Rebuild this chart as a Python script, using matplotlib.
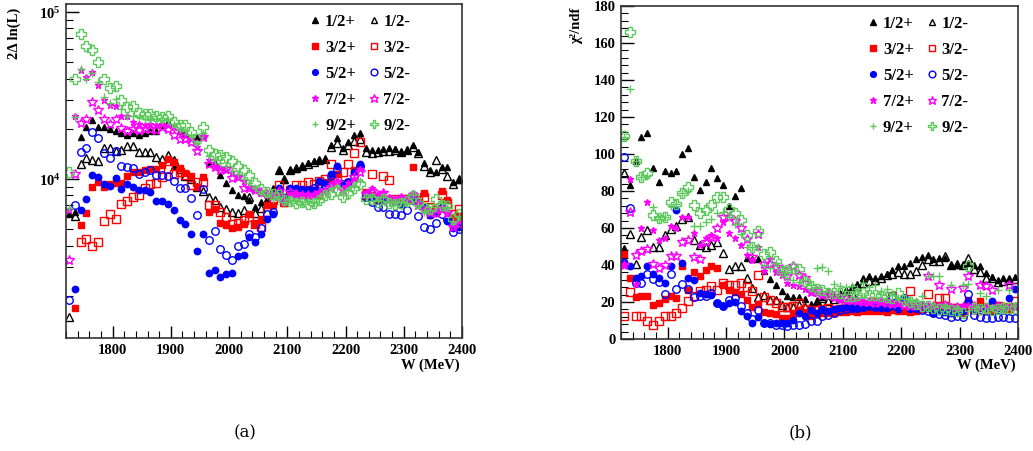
import numpy as np
import matplotlib
matplotlib.use("Agg")
import matplotlib.pyplot as plt
from matplotlib.lines import Line2D
from matplotlib.ticker import LogLocator, MultipleLocator, FuncFormatter, NullFormatter

plt.rcParams['font.family'] = ['Liberation Serif', 'DejaVu Serif']
plt.rcParams['font.weight'] = 'bold'
plt.rcParams['mathtext.fontset'] = 'custom'
plt.rcParams['mathtext.rm'] = 'Liberation Serif:bold'
plt.rcParams['mathtext.it'] = 'Liberation Serif:bold'
plt.rcParams['mathtext.bf'] = 'Liberation Serif:bold'

nan = np.nan
W = np.arange(1725, 2400, 10)  # MeV, 68 bins

labels = ['1/2+', '1/2-', '3/2+', '3/2-', '5/2+', '5/2-', '7/2+', '7/2-', '9/2+', '9/2-']

# ---- (a) 2 Delta ln(L), in thousands ----
L_12p = [6.2, 6.4, 18, 20.5, 22.5, 20.5, 20.5, 20, 19.5, 19,
         18.5, 19, 18.5, 19, 19.5, 19.5, 21, 22, 12, 19.5,
         19, 10.2, 18, 18.5, 12.5, 12.5, 10.6, 9.5, 8.6, 8.1,
         7.9, 7.5, 6.8, 7.3, 7.6, 8.8, 11.3, 9.9, 11.3, 11.5,
         12.0, 12.5, 12.8, 13.0, 13.2, 16.0, 17.6, 15.3, 16.7, 18.4,
         19.0, 15.3, 15.0, 15.0, 15.2, 15.3, 15.2, 14.5, 15.0, 16.0,
         14.5, 12.5, 11.3, 11.0, 11.9, 11.9, 9.6, 9.9]
L_12m = [1.5, 6.0, 12.3, 13.4, 13.0, 12.8, 15.3, 15.3, 14.8, 15.0,
         15.8, 15.8, 14.6, 14.6, 14.5, 13.5, 13.2, 14.0, 13.0, 11.5,
         10.5, 10.0, 9.0, 8.5, 7.8, 7.5, 6.8, 6.6, 6.4, 6.3,
         6.5, 7.8, 6.3, 6.7, 7.5, 8.5, 11.3, 10.0, 11.3, 11.6,
         12.0, 12.3, 12.6, 13.0, 13.3, 15.5, 16.5, 15.0, 16.0, 17.0,
         17.5, 14.5, 14.3, 14.5, 14.8, 14.8, 15.0, 14.6, 15.0, 15.5,
         14.3, 12.0, 11.0, 13.1, 11.5, 10.5, 9.3, 10.0]
L_32p = [nan, 1.7, 5.3, 6.3, 9.0, 9.6, 9.0, 9.3, 9.5, 9.5,
         10.5, 11.1, 11.1, 11.3, 11.5, 11.5, 12.1, 13.3, 12.7, 11.6,
         10.9, 10.4, 9.0, 10.3, 6.4, 6.6, 5.5, 5.3, 5.1, 5.2,
         5.4, 6.2, 5.4, 5.8, 7.0, 7.0, 8.6, 7.2, 8.3, 8.5,
         8.2, 8.4, 8.6, 8.0, 9.6, 9.8, 10.8, 9.2, 9.6, 11.4,
         11.8, 8.4, 8.0, 7.5, 7.6, 7.6, 7.4, 7.6, 7.7, 11.9,
         7.3, 8.3, 6.1, 6.5, 8.5, 7.5, 5.9, 6.0]
L_32m = [nan, nan, 4.2, 4.4, 4.0, 4.2, 5.6, 6.2, 5.8, 7.1,
         7.4, 7.8, 8.0, 8.8, 9.3, 9.5, 10.3, 11.5, 10.8, 11.0,
         10.6, 9.2, 9.6, 9.6, 7.0, 7.0, 6.4, 5.9, 5.4, 5.5,
         5.7, 5.9, 5.4, 5.2, 6.4, 7.5, 9.2, 7.3, 8.6, 9.2,
         9.2, 9.6, 9.4, 9.8, 10.0, 12.4, 10.5, 11.1, 12.4, 14.3,
         16.7, 8.0, 10.7, 7.8, 10.4, 9.9, 7.6, 7.4, 7.6, 7.8,
         7.5, 7.8, 6.8, 6.5, 8.1, 7.2, 6.2, 6.6]
L_52p = [nan, 2.2, 6.5, 7.6, 10.6, 10.3, 9.3, 9.1, 10.2, 8.7,
         9.3, 9.0, 8.6, 8.6, 8.4, 7.4, 7.4, 7.1, 6.5, 5.7,
         5.4, 4.7, 3.7, 4.7, 2.75, 2.85, 2.6, 2.7, 2.75, 3.45,
         3.5, 4.5, 4.2, 4.7, 5.8, 6.2, 8.9, 7.8, 8.9, 8.9,
         8.7, 8.6, 8.6, 9.8, 9.5, 10.8, 12.0, 9.2, 9.5, 11.1,
         12.4, 8.0, 7.8, 7.8, 7.5, 7.6, 7.4, 7.0, 7.6, 7.8,
         7.2, 6.8, 6.1, 6.3, 6.8, 5.6, 5.1, 5.2]
L_52m = [1.9, 7.0, 14.5, 15.3, 19.2, 17.7, 14.4, 13.4, 14.7, 12.0,
         11.8, 11.6, 10.8, 11.0, 11.3, 10.6, 10.6, 10.4, 9.8, 8.9,
         8.9, 7.7, 6.1, 8.7, 4.3, 4.9, 3.8, 3.5, 3.3, 4.0,
         4.1, 4.7, 4.5, 5.1, 6.2, 6.4, 8.6, 7.5, 8.6, 8.4,
         8.4, 8.6, 8.8, 9.4, 9.2, 10.5, 11.5, 9.4, 9.6, 10.5,
         12.0, 7.8, 7.3, 6.8, 6.8, 6.2, 6.2, 6.1, 6.5, 7.5,
         6.0, 5.2, 5.0, 5.5, 6.2, 5.8, 4.8, 5.0]
L_72p = [6.5, 24, 45, 41, 44, 36.5, 30, 28, 27.5, 24,
         24, 22, 21.5, 21, 21.5, 21, 21.5, 21, 20.5, 19.5,
         18.5, 17.5, 15.5, 18.0, 13.0, 12.0, 11.7, 11.3, 11.0, 10.5,
         9.8, 9.0, 8.6, 8.3, 8.2, 8.0, 8.0, 7.6, 8.2, 8.0,
         8.0, 8.2, 8.0, 8.3, 8.5, 9.3, 9.8, 8.8, 9.5, 10.0,
         11.5, 8.4, 8.8, 8.2, 8.4, 7.8, 7.6, 7.9, 7.7, 8.3,
         7.3, 6.6, 6.3, 6.5, 6.8, 6.4, 5.3, 5.6]
L_72m = [3.3, 10.7, 21.7, 22.8, 29, 26, 22.8, 21.5, 22.8, 20.2,
         19.5, 20, 19.7, 20, 20, 19.8, 20.5, 20, 18.5, 17.5,
         17.5, 16.7, 14.7, 17.8, 12.3, 11.8, 11.4, 11.5, 10.1, 10.3,
         8.9, 8.8, 8.6, 8.4, 8.2, 7.9, 8.5, 7.4, 8.4, 8.2,
         8.1, 8.0, 8.0, 8.3, 8.5, 9.0, 9.6, 8.6, 9.0, 10.3,
         11.0, 8.2, 8.5, 8.0, 8.3, 7.6, 7.5, 7.6, 7.5, 8.0,
         7.0, 6.5, 6.4, 6.3, 6.6, 6.3, 5.2, 5.4]
L_92p = [6.7, 23.5, 45.5, 40, 43.5, 38, 31, 28.5, 30.4, 26.5,
         23.8, 24, 23.6, 23, 22.5, 22.8, 22.5, 22.5, 21.5, 20,
         19.5, 18.5, 16.5, 19, 13.7, 13.0, 12.5, 12.0, 11.2, 10.8,
         10.0, 9.5, 8.8, 8.3, 8.0, 7.6, 7.8, 7.3, 7.5, 7.4,
         7.3, 7.4, 7.2, 7.6, 8.2, 8.8, 9.0, 8.0, 8.6, 9.0,
         9.8, 7.8, 7.9, 7.5, 7.8, 7.3, 7.2, 7.3, 7.2, 8.0,
         7.0, 6.4, 6.5, 6.8, 7.2, 6.8, 5.6, 6.0]
L_92m = [11, 40, 74, 63, 59, 50, 40, 35, 36, 30,
         27, 27.5, 25, 24.5, 24.5, 24, 23.5, 23.8, 22, 21,
         21, 19.2, 17.4, 20.6, 15, 14.2, 14.0, 13.5, 12.8, 12.0,
         11.3, 10.6, 9.5, 8.7, 8.4, 8.2, 8.0, 7.5, 7.4, 7.2,
         7.3, 7.1, 7.2, 7.5, 8.0, 8.2, 8.6, 7.8, 8.3, 8.8,
         9.3, 7.6, 7.6, 7.3, 7.6, 7.2, 7.1, 7.2, 7.4, 7.9,
         7.2, 6.7, 6.6, 7.6, 7.0, 6.9, 5.8, 6.2]

# ---- (b) chi2/ndf ----
R_12p = [49, 83, 96, 109.4, 111.5, 92.3, 85.1, 91, 90, 91,
         100, 103.5, 87.8, 80.6, 84.6, 92.3, 86.9, 83, 72, 77.4,
         81.5, 44, 43, 43, 37, 32.4, 29, 26, 23.5, 22.5,
         22.5, 21.5, 19, 20.3, 22.5, 24, 23.5, 24.7, 26.4, 28,
         30, 33, 34, 33, 34, 35.2, 37.4, 39.2, 39.5, 41.1,
         43, 44.4, 45.4, 43.2, 43.6, 43.6, 39.8, 40, 39.8, 41,
         39.8, 39.3, 35.5, 33.7, 31.9, 32.8, 32.8, 33.3]
R_12m = [90, 56.7, 40.5, 55, 59, 50, 50, 56.3, 59.5, 61,
         65, 66, 53.6, 50.9, 50, 51, 52.2, 46.4, 37.8, 39.6,
         39.2, 32.9, 27.5, 22.5, 24, 21, 21.2, 18.5, 17.3, 17.5,
         18.5, 17.5, 16.8, 20.3, 22, 20.5, 21.5, 22, 25.8, 24.9,
         28.4, 30.5, 31.5, 32, 33, 34.7, 35.2, 36, 35.2, 35.3,
         37, 39.8, 43.2, 42.2, 42.2, 44.9, 39.8, 40.8, 40, 43.6,
         38, 36, 33, 32.8, 31, 31.5, 32, 32.5]
R_32p = [45.9, 32.9, 22.6, 23, 23.3, 18.5, 19.7, 21.5, 23, 22.4,
         39.7, 26.5, 36.2, 34.2, 37.4, 39.2, 38.3, 29.3, 26.6, 25.2,
         24.5, 21.2, 17.3, 18.8, 14.6, 14.2, 13.3, 11.5, 11.5, 13.5,
         15.8, 14.5, 12.2, 13.6, 14, 13.8, 14.2, 14.4, 14.8, 15,
         14.6, 15, 15.4, 15.2, 15, 14.6, 15.8, 15, 15.2, 14.6,
         15, 16.2, 16.7, 16.7, 18, 16.7, 15, 15, 14, 21.2,
         15.8, 20.3, 16.7, 15, 17.6, 16.5, 16.2, 17.6]
R_32m = [12.6, 25.2, 12.3, 12.3, 9.6, 7.7, 9.6, 12.6, 12.3, 14,
         16.7, 20.3, 23, 25.7, 26.6, 28.4, 26.6, 30.2, 29.3, 29.3,
         30.5, 28, 26, 34.7, 22.6, 21, 19.6, 17.3, 17.5, 18,
         19.6, 16, 15.5, 15.5, 16, 16.5, 15.5, 16.2, 17, 16.5,
         17, 16.8, 17.5, 19.8, 18, 17, 23, 18.5, 17, 25.7,
         17.5, 17, 24.3, 17, 22.1, 22.1, 17, 16.5, 15.5, 18.5,
         16, 15.5, 17.5, 16.5, 18, 17.5, 17, 20.3]
R_52p = [41.5, 39.2, 32.9, 34.3, 39.6, 35.2, 32.9, 30.2, 39.6, 70,
         41, 33, 32, 24.8, 24.3, 23.9, 19.4, 18.1, 19.4, 19.8,
         14.9, 12.2, 8.6, 11.8, 8.6, 8.3, 8.6, 8.6, 8.8, 10.5,
         14, 12.6, 15.5, 14, 16.2, 15.3, 16, 16.7, 17.3, 17,
         17, 17.5, 18.2, 17.6, 17, 16.5, 17.6, 16.2, 21.6, 17,
         16.5, 17.6, 16.5, 14, 15, 14.5, 14, 14.5, 15, 20.3,
         15.5, 16.5, 17, 20.3, 17, 16.5, 22, 27]
R_52m = [98.6, 70.7, 30.2, 30.2, 35, 32.4, 31, 24.4, 35, 27,
         29.5, 27, 22.5, 23, 23.5, 25, 19.5, 18, 21, 22,
         18, 14, 11, 15.5, 8.5, 8.5, 7.8, 7.7, 7.0, 7.5,
         7.7, 8, 9.5, 10, 12.2, 13, 14, 15.5, 16, 16.7,
         17, 17.5, 18, 17.5, 18, 19, 23, 18, 22.1, 17,
         16.5, 15.5, 15, 14, 13.5, 13, 12, 12.5, 12, 24.3,
         13, 12, 11.3, 11.5, 11.8, 11.7, 11.5, 11.3]
R_72p = [40, 86.4, 30, 59.9, 74.3, 58.9, 53.6, 54.5, 61.2, 60,
         66.2, 66, 57.2, 50.9, 54.5, 56.3, 54.5, 63.5, 57.2, 54.5,
         50.9, 45.5, 42.8, 50, 37, 43, 36, 34.7, 30.2, 29.3,
         28.5, 27, 25.5, 25, 23.9, 23, 22, 21, 20.3, 20.5,
         21, 20.3, 20, 20.3, 20, 20.3, 19.5, 19.5, 19.2, 19,
         19, 19, 18.5, 18.5, 18.2, 18, 17.6, 18, 18.5, 18.5,
         18, 16.7, 17.5, 17.5, 17.6, 17.6, 17.6, 18]
R_72m = [40, 68.4, 45.5, 47.8, 48.7, 40.8, 38.3, 40, 44.6, 44.6,
         52.7, 53.6, 44.2, 43.2, 52.7, 55.4, 59.9, 66.2, 66.2, 64,
         59.9, 54, 44.5, 56.6, 40.6, 40.8, 39, 38, 34, 39.3,
         34.7, 33, 25.6, 26, 24, 25, 23, 22, 22, 21,
         20.5, 20, 20, 19.5, 20, 19.5, 19, 19.5, 18.5, 18,
         18.5, 18, 33.8, 18, 29.3, 18.5, 27, 17.5, 27.5, 33.8,
         18, 29.3, 28.5, 26.4, 18, 17.5, 29.3, 17.5]
R_92p = [109, 135, 96, 87.8, 88, 71.6, 64.8, 66.2, 72, 73,
         78.8, 80, 61, 61.2, 63.5, 65, 68, 68.4, 66, 62.2,
         57, 50, 50, 50, 40, 38.5, 41, 37, 33, 32,
         31, 32, 29, 38.3, 38.7, 36.9, 30, 28.5, 28, 28.5,
         27, 30.5, 28, 29.3, 26, 27, 25, 22, 21.5, 21,
         20.5, 23, 33.8, 34.2, 33.8, 18, 29.3, 17, 29.3, 30,
         17, 25, 23, 17, 26.6, 17, 26.6, 18]
R_92m = [109.8, 165.9, 96, 87.5, 90, 67, 65.3, 66, 74.3, 73,
         78.8, 82.4, 72.5, 68, 69.8, 72.5, 77, 76.6, 70.2, 68,
         64.4, 56, 50, 58.5, 46, 46.9, 42.3, 37, 37.4, 38.3,
         37.8, 31.6, 28.5, 27, 26.5, 24.9, 25, 24.8, 23.5, 23,
         24, 24.8, 24, 24, 23, 22.5, 22, 24.8, 21.2, 20,
         19, 17.6, 18, 16.5, 16, 16, 15.5, 15, 14, 39.2,
         17, 16, 16.5, 15.5, 16, 17, 17, 17]

left_data = [L_12p, L_12m, L_32p, L_32m, L_52p, L_52m, L_72p, L_72m, L_92p, L_92m]
right_data = [R_12p, R_12m, R_32p, R_32m, R_52p, R_52m, R_72p, R_72m, R_92p, R_92m]

GREEN = '#5cc85c'
# marker, colour, filled, size
styles = [
    ('^', 'black', True, 4.2),
    ('^', 'black', False, 5.4),
    ('s', '#ff0000', True, 4.5),
    ('s', '#ff0000', False, 5.3),
    ('o', '#0000ff', True, 4.6),
    ('o', '#0000ff', False, 5.4),
    ('*', '#ff00ff', True, 5.0),
    ('*', '#ff00ff', False, 7.2),
    ('+', GREEN, True, 5.5),
    ('P', GREEN, False, 6.6),
]


def draw(ax, data, scale):
    for vals, (m, c, filled, ms) in zip(data, styles):
        y = np.array(vals, dtype=float) * scale
        ax.plot(W, y, linestyle='none', marker=m, ms=ms,
                mfc=c if filled else 'none', mec=c, mew=1.0)


def legend(ax, anchor):
    handles = []
    for m, c, filled, ms in styles:
        handles.append(Line2D([], [], linestyle='none', marker=m, ms=ms * 0.9,
                              mfc=c if filled else 'none', mec=c, mew=1.0))
    order = [0, 2, 4, 6, 8, 1, 3, 5, 7, 9]
    ax.legend([handles[i] for i in order], [labels[i] for i in order],
              ncol=2, loc='upper right', bbox_to_anchor=anchor, frameon=False,
              prop={'weight': 'bold', 'size': 12}, handlelength=0.55,
              handletextpad=0.3, columnspacing=0.8, labelspacing=0.6,
              borderaxespad=0.2)


def frame(ax):
    for s in ax.spines.values():
        s.set_linewidth(1.2)
        s.set_color('#333333')
    ax.tick_params(which='both', direction='in', top=False, right=False,
                   labelsize=10.5, pad=4)
    ax.tick_params(which='major', length=9, width=1.0)
    ax.tick_params(which='minor', length=5, width=0.8)
    ax.set_xlim(1720, 2400)
    ax.xaxis.set_major_locator(MultipleLocator(100))
    ax.xaxis.set_minor_locator(MultipleLocator(20))
    for t in ax.get_xticklabels() + ax.get_yticklabels():
        t.set_fontweight('bold')


fig = plt.figure(figsize=(10.33, 4.51), dpi=100)

axL = fig.add_axes([66 / 1033, 1 - 338 / 451, 396 / 1033, 334 / 451])
draw(axL, left_data, 1000.0)
axL.set_yscale('log')
axL.set_ylim(1120, 112000)
axL.yaxis.set_major_locator(LogLocator(base=10))
axL.yaxis.set_minor_locator(LogLocator(base=10, subs=np.arange(2, 10)))
axL.yaxis.set_major_formatter(FuncFormatter(lambda v, p: r'$10^{%d}$' % round(np.log10(v))))
axL.yaxis.set_minor_formatter(NullFormatter())
frame(axL)
legend(axL, (0.895, 1.0))

axR = fig.add_axes([621 / 1033, 1 - 339 / 451, 397 / 1033, 333 / 451])
draw(axR, right_data, 1.0)
axR.set_ylim(0, 180)
axR.yaxis.set_major_locator(MultipleLocator(20))
axR.yaxis.set_minor_locator(MultipleLocator(4))
frame(axR)
legend(axR, (0.9, 1.0))

fig.text(14 / 1033, 1 - 8 / 451, '2\u0394 ln(L)', rotation=90, ha='center', va='top',
         fontsize=10.5, fontweight='bold')
fig.text(577 / 1033, 1 - 8 / 451, '\u03c7\u00b2/ndf', rotation=90, ha='center', va='top',
         fontsize=10.5, fontweight='bold')
fig.text(460 / 1033, 1 - 365 / 451, 'W (MeV)', ha='right', va='center',
         fontsize=10.5, fontweight='bold')
fig.text(1016 / 1033, 1 - 365 / 451, 'W (MeV)', ha='right', va='center',
         fontsize=10.5, fontweight='bold')
fig.text(245 / 1033, 1 - 433 / 451, '(a)', ha='center', va='center',
         fontsize=12, fontweight='normal', family='DejaVu Serif')
fig.text(800 / 1033, 1 - 433 / 451, '(b)', ha='center', va='center',
         fontsize=12, fontweight='normal', family='DejaVu Serif')

fig.savefig('out.png', dpi=100)
